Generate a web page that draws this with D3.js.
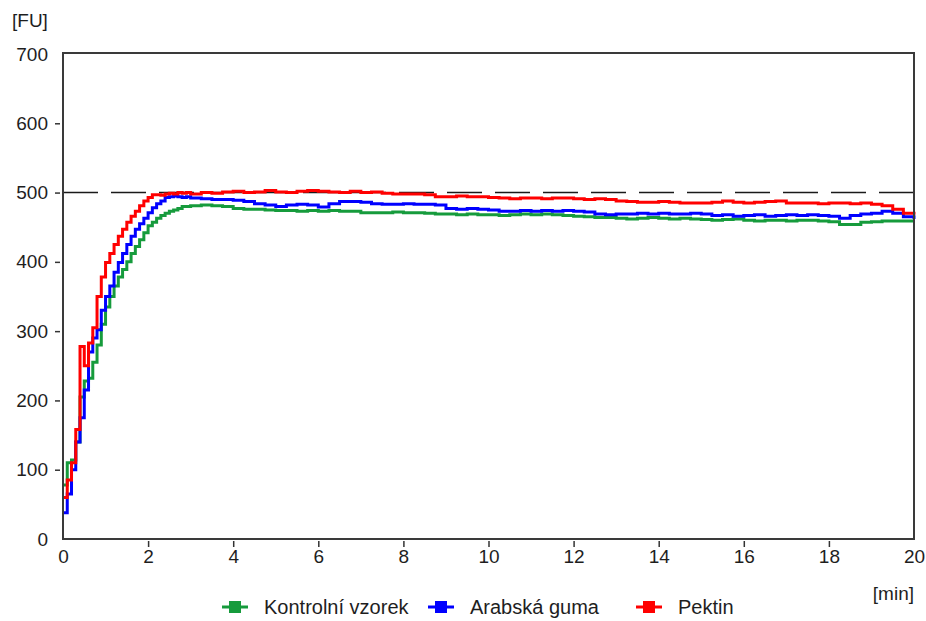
<!DOCTYPE html>
<html>
<head>
<meta charset="utf-8">
<script src="https://cdn.jsdelivr.net/npm/d3@7"></script>
<style>
  html, body { margin: 0; padding: 0; background: #ffffff; }
  svg { display: block; }
  text { font-family: "Liberation Sans", Arial, sans-serif; fill: #1e1e1e; }
</style>
</head>
<body>
<svg id="chart" width="926" height="621"></svg>
<script>
// Time axis (minutes) shared by all three curves
const minutes = [
  0, 0.1, 0.2, 0.3, 0.4, 0.5, 0.6, 0.7, 0.8, 0.9,
  1.0, 1.1, 1.2, 1.3, 1.4, 1.5, 1.6, 1.7, 1.8, 1.9,
  2.0, 2.1, 2.2, 2.3, 2.4, 2.5, 2.6, 2.7, 2.8, 2.9, 3.0,
  3.25, 3.5, 3.75, 4, 4.25, 4.5, 4.75, 5, 5.25, 5.5, 5.75, 6,
  6.25, 6.5, 6.75, 7, 7.25, 7.5, 7.75, 8, 8.25, 8.5, 8.75, 9,
  9.25, 9.5, 9.75, 10, 10.25, 10.5, 10.75, 11, 11.25, 11.5, 11.75, 12,
  12.25, 12.5, 12.75, 13, 13.25, 13.5, 13.75, 14, 14.25, 14.5, 14.75, 15,
  15.25, 15.5, 15.75, 16, 16.25, 16.5, 16.75, 17, 17.25, 17.5, 17.75, 18,
  18.25, 18.5, 18.75, 19, 19.25, 19.5, 19.75, 20
];

// Consistency in farinograph units [FU]
const kontrolniVzorek = [
  78, 110, 114, 140, 205, 228, 232, 255, 280, 310,
  335, 350, 365, 378, 389, 400, 412, 422, 432, 442,
  452, 457, 463, 467, 470, 473, 475, 477, 480, 480, 481,
  482, 481, 480, 477, 476, 476, 475, 474, 474, 473, 474, 473,
  474, 473, 473, 471, 471, 471, 472, 471, 471, 470, 469, 469,
  468, 469, 468, 468, 467, 468, 469, 468, 469, 468, 467, 466,
  465, 464, 464, 463, 462, 463, 464, 463, 462, 463, 462, 461,
  460, 461, 462, 460, 459, 460, 460, 459, 460, 460, 459, 458,
  454, 454, 457, 458, 459, 459, 459, 459
];

const arabskaGuma = [
  38, 65, 100, 140, 175, 215, 270, 290, 302, 330,
  350, 365, 385, 399, 412, 425, 437, 447, 455, 463,
  471, 478, 484, 488, 493, 494, 495, 494, 493, 494, 492,
  491, 490, 490, 489, 487, 484, 482, 480, 482, 483, 482, 479,
  484, 487, 487, 486, 484, 483, 483, 484, 483, 483, 482, 477,
  476, 477, 476, 475, 473, 473, 474, 473, 474, 473, 474, 473,
  472, 469, 468, 469, 469, 470, 469, 470, 469, 469, 470, 469,
  467, 468, 466, 467, 468, 466, 467, 468, 467, 468, 467, 466,
  463, 467, 469, 470, 473, 470, 465, 462
];

const pektin = [
  60, 85, 110, 158, 278, 250, 283, 305, 350, 378,
  399, 412, 425, 437, 447, 457, 466, 473, 481, 488,
  493, 497, 497, 496, 498, 499, 498, 500, 499, 500, 498,
  500, 499, 501, 502, 500, 501, 503, 501, 500, 502, 503, 502,
  501, 500, 502, 500, 501, 499, 498, 498, 498, 497, 494, 494,
  495, 494, 494, 493, 492, 491, 492, 492, 491, 492, 492, 491,
  490, 491, 490, 488, 487, 486, 486, 487, 486, 485, 485, 485,
  486, 488, 486, 485, 486, 487, 488, 485, 485, 485, 484, 485,
  485, 484, 485, 483, 481, 476, 470, 468
];

const seriesNames = ["Kontrolní vzorek", "Arabská guma", "Pektin"];
const seriesColors = ["#169b3c", "#0000ff", "#ff0000"];
const seriesValues = [kontrolniVzorek, arabskaGuma, pektin];

const xTicks = [0, 2, 4, 6, 8, 10, 12, 14, 16, 18, 20];
const yTicks = [0, 100, 200, 300, 400, 500, 600, 700];
const referenceLine = 500;

const svg = d3.select("#chart");
const plot = { left: 63, right: 914, top: 54, bottom: 539 };

const x = d3.scaleLinear().domain([0, 20]).range([plot.left, plot.right]);
const y = d3.scaleLinear().domain([0, 700]).range([plot.bottom, plot.top]);

const fontSize = 19;
const legendFontSize = 20;

// Y axis: labels with short detached tick marks
const yAxis = svg.append("g")
  .attr("transform", `translate(${plot.left - 3},0)`)
  .call(d3.axisLeft(y).tickValues(yTicks).tickSize(5).tickPadding(7));
yAxis.select(".domain").remove();
yAxis.selectAll(".tick line")
  .attr("stroke", "#333").attr("stroke-width", 1.5)
  .attr("display", d => (d === 0 || d === 700) ? "none" : null);
yAxis.selectAll(".tick text")
  .style("font-size", fontSize + "px").attr("fill", "#1e1e1e");

// X axis
const xAxis = svg.append("g")
  .attr("transform", `translate(0,${plot.bottom + 2})`)
  .call(d3.axisBottom(x).tickValues(xTicks).tickSize(6).tickPadding(3));
xAxis.select(".domain").remove();
xAxis.selectAll(".tick line")
  .attr("stroke", "#333").attr("stroke-width", 1.5)
  .attr("display", d => (d === 0 || d === 20) ? "none" : null);
xAxis.selectAll(".tick text")
  .style("font-size", fontSize + "px").attr("fill", "#1e1e1e");

// Axis unit labels
svg.append("text").attr("x", 12).attr("y", 27)
  .style("font-size", fontSize + "px").text("[FU]");
svg.append("text").attr("x", 914).attr("y", 600).attr("text-anchor", "end")
  .style("font-size", fontSize + "px").text("[min]");

// Dashed reference line
svg.append("line")
  .attr("x1", x(0)).attr("x2", x(20))
  .attr("y1", y(referenceLine)).attr("y2", y(referenceLine))
  .attr("stroke", "#1a1a1a").attr("stroke-width", 1.6)
  .attr("stroke-dasharray", "35,13");

// Curves
const line = d3.line()
  .x(d => x(d[0]))
  .y(d => y(d[1]))
  .curve(d3.curveStepAfter);

seriesValues.forEach((vals, i) => {
  const pts = minutes.map((t, k) => [t, vals[k]]);
  svg.append("path")
    .datum(pts)
    .attr("fill", "none")
    .attr("stroke", seriesColors[i])
    .attr("stroke-width", 3)
    .attr("stroke-linejoin", "miter")
    .attr("d", line);
});

// Plot frame
svg.append("rect")
  .attr("x", plot.left).attr("y", plot.top - 1)
  .attr("width", plot.right - plot.left).attr("height", plot.bottom - plot.top + 1)
  .attr("fill", "none").attr("stroke", "#3a3a3a").attr("stroke-width", 2);

// Legend
const legendX = [222, 428, 636];
const legendY = 607;
const legend = svg.append("g");
seriesNames.forEach((name, i) => {
  const g = legend.append("g").attr("transform", `translate(${legendX[i]},${legendY})`);
  g.append("line").attr("x1", 0).attr("x2", 26).attr("y1", 0).attr("y2", 0)
    .attr("stroke", seriesColors[i]).attr("stroke-width", 3);
  g.append("rect").attr("x", 7).attr("y", -6).attr("width", 12).attr("height", 12)
    .attr("fill", seriesColors[i]);
  g.append("text").attr("x", 42).attr("y", 0).attr("dy", "0.35em")
    .style("font-size", legendFontSize + "px").text(name);
});
</script>
</body>
</html>
